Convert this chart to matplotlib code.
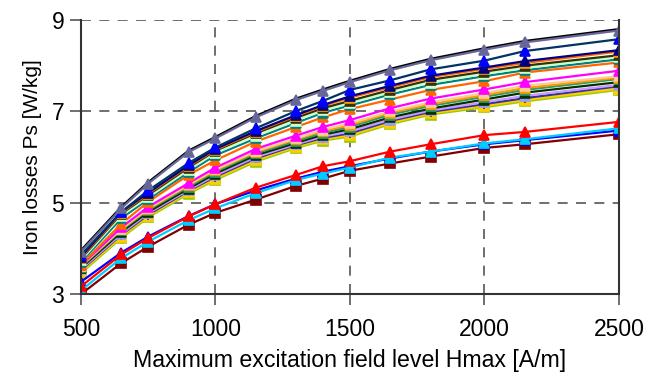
import matplotlib
matplotlib.use("Agg")
import matplotlib.pyplot as plt

plt.rcParams['font.family'] = ['Liberation Sans', 'DejaVu Sans']

hmax = [500, 650, 750, 900, 1000, 1150, 1300, 1400, 1500, 1650, 1800, 2000, 2150, 2500]

# top group
s_black = [3.96, 4.91, 5.45, 6.14, 6.44, 6.90, 7.28, 7.48, 7.67, 7.93, 8.15, 8.38, 8.54, 8.80]
s_slate = [3.93, 4.88, 5.42, 6.11, 6.41, 6.87, 7.25, 7.45, 7.64, 7.90, 8.12, 8.35, 8.51, 8.77]
s_blue1 = [3.86, 4.80, 5.27, 5.87, 6.21, 6.63, 7.01, 7.23, 7.47, 7.68, 7.92, 8.11, 8.32, 8.58]
s_navy = [3.82, 4.80, 5.22, 5.82, 6.18, 6.57, 6.92, 7.14, 7.33, 7.56, 7.78, 7.96, 8.10, 8.34]
s_orng1 = [3.80, 4.78, 5.20, 5.80, 6.16, 6.55, 6.90, 7.12, 7.30, 7.53, 7.75, 7.93, 8.06, 8.31]
s_olive = [3.78, 4.76, 5.17, 5.77, 6.14, 6.52, 6.86, 7.07, 7.23, 7.47, 7.69, 7.87, 8.00, 8.23]
s_lgrn = [3.74, 4.72, 5.12, 5.72, 6.09, 6.46, 6.80, 7.02, 7.18, 7.42, 7.63, 7.82, 7.95, 8.19]
s_teal = [3.70, 4.66, 5.08, 5.67, 6.04, 6.41, 6.75, 6.97, 7.13, 7.37, 7.58, 7.77, 7.90, 8.14]
s_orng2 = [3.64, 4.54, 5.02, 5.61, 5.93, 6.34, 6.66, 6.87, 7.05, 7.26, 7.47, 7.66, 7.85, 8.07]
# middle group
s_magen = [3.63, 4.46, 4.91, 5.43, 5.77, 6.18, 6.47, 6.66, 6.81, 7.07, 7.28, 7.48, 7.64, 7.89]
s_peach = [3.62, 4.43, 4.88, 5.40, 5.73, 6.13, 6.41, 6.60, 6.74, 7.00, 7.20, 7.40, 7.56, 7.77]
s_orng3 = [3.61, 4.42, 4.86, 5.38, 5.71, 6.11, 6.39, 6.57, 6.70, 6.97, 7.16, 7.36, 7.51, 7.74]
s_sgrn = [3.60, 4.40, 4.84, 5.35, 5.68, 6.08, 6.35, 6.53, 6.66, 6.93, 7.12, 7.32, 7.47, 7.71]
s_dgrn = [3.57, 4.36, 4.80, 5.31, 5.64, 6.04, 6.31, 6.49, 6.61, 6.87, 7.06, 7.26, 7.41, 7.64]
s_lav = [3.54, 4.32, 4.77, 5.28, 5.60, 6.00, 6.28, 6.45, 6.56, 6.82, 7.02, 7.20, 7.34, 7.58]
s_plus = [3.52, 4.30, 4.74, 5.26, 5.57, 5.97, 6.26, 6.42, 6.52, 6.79, 6.99, 7.16, 7.29, 7.55]
s_gold = [3.49, 4.26, 4.71, 5.23, 5.53, 5.93, 6.23, 6.39, 6.48, 6.75, 6.96, 7.12, 7.25, 7.50]
s_ygrn = [3.46, 4.23, 4.68, 5.20, 5.50, 5.90, 6.20, 6.36, 6.45, 6.72, 6.93, 7.09, 7.22, 7.47]
# bottom group
s_red = [3.17, 3.87, 4.23, 4.70, 4.97, 5.33, 5.61, 5.80, 5.91, 6.12, 6.28, 6.48, 6.55, 6.77]
s_blue2 = [3.27, 3.91, 4.26, 4.71, 4.97, 5.27, 5.53, 5.68, 5.80, 5.97, 6.12, 6.28, 6.37, 6.58]
s_cyan = [3.08, 3.79, 4.15, 4.62, 4.88, 5.21, 5.50, 5.64, 5.77, 5.99, 6.12, 6.30, 6.39, 6.63]
s_dred = [3.00, 3.68, 4.04, 4.52, 4.78, 5.07, 5.37, 5.53, 5.70, 5.86, 6.01, 6.20, 6.28, 6.50]

series = [
    (s_ygrn, '#99CC00', '#99CC00', 's'),
    (s_gold, '#FFCC00', '#FFCC00', 's'),
    (s_plus, '#333399', '#333399', '+'),
    (s_lav, '#CC99FF', '#9999FF', '^'),
    (s_dgrn, '#003300', '#003300', '^'),
    (s_sgrn, '#339966', '#339966', '^'),
    (s_orng3, '#FF9900', '#FF9900', '^'),
    (s_peach, '#FFCC99', '#FFCC99', '^'),
    (s_magen, '#FF00FF', '#FF00FF', '^'),
    (s_orng2, '#FF6600', '#FF6600', '^'),
    (s_teal, '#008080', '#008080', '^'),
    (s_lgrn, '#CCFFCC', '#CCFFCC', '^'),
    (s_olive, '#333300', '#333300', '^'),
    (s_orng1, '#FF6600', '#FF9900', '^'),
    (s_navy, '#000080', '#000080', '^'),
    (s_blue1, '#003366', '#0000FF', '^'),
    (s_black, '#000000', '#000000', None),
    (s_slate, '#666699', '#666699', '^'),
    (s_dred, '#800000', '#800000', 's'),
    (s_blue2, '#0000FF', '#0000FF', '^'),
    (s_cyan, '#00CCFF', '#00CCFF', '^'),
    (s_red, '#FF0000', '#FF0000', '^'),
]

fig = plt.figure(figsize=(6.64, 3.81), dpi=100)
ax = fig.add_axes([0.122, 0.228, 0.810, 0.7195])

for vals, lc, mc, mk in series:
    if mk is None:
        ax.plot(hmax, vals, color=lc, lw=1.6)
    else:
        ax.plot(hmax, vals, color=lc, lw=1.6, marker=mk, markersize=6.5,
                markerfacecolor=mc, markeredgecolor=mc, markeredgewidth=1.2)

ax.set_xlim(500, 2500)
ax.set_ylim(3, 9)
ax.set_xticks([500, 1000, 1500, 2000, 2500])
ax.set_yticks([3, 5, 7, 9])
ax.grid(True, color='#555555', linestyle=(0, (6, 5)), linewidth=1.2)
ax.set_axisbelow(True)
ax.spines['top'].set_visible(False)
for s in ['left', 'bottom', 'right']:
    ax.spines[s].set_color('#333333')
    ax.spines[s].set_linewidth(1.5)
ax.tick_params(axis='both', direction='out', length=8, width=1.2, color='#555555',
               labelsize=16.5)
ax.tick_params(axis='x', pad=9)
ax.tick_params(axis='y', pad=4)
ax.set_xlabel('Maximum excitation field level Hmax [A/m]', fontsize=16.7, labelpad=6)
ax.set_ylabel('Iron losses Ps [W/kg]', fontsize=15, labelpad=7)

fig.savefig('out.png', dpi=100)
